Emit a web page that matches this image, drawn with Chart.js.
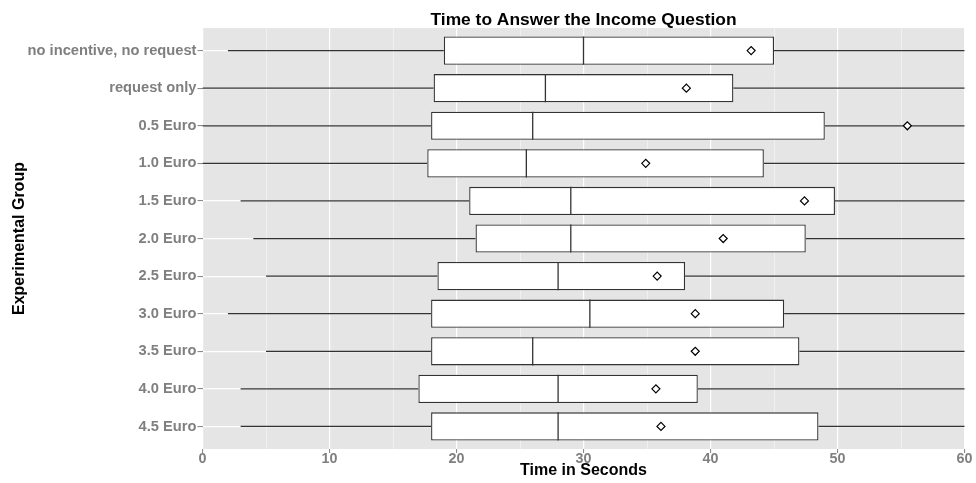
<!DOCTYPE html>
<html>
<head>
<meta charset="utf-8">
<title>Time to Answer the Income Question</title>
<script src="https://cdn.jsdelivr.net/npm/chart.js@4/dist/chart.umd.min.js"></script>
<style>
  html, body { margin: 0; padding: 0; background: #ffffff; }
  canvas { display: block; }
</style>
</head>
<body>
<canvas id="chart" width="976" height="483"></canvas>
<script>
// Experimental groups, top to bottom
const categories = [
  "no incentive, no request", "request only", "0.5 Euro", "1.0 Euro",
  "1.5 Euro", "2.0 Euro", "2.5 Euro", "3.0 Euro", "3.5 Euro", "4.0 Euro", "4.5 Euro"
];
// Box plot statistics (seconds)
const whiskerLow  = [2, 0, 0, 0, 3, 4, 5, 2, 5, 3, 3];
const q1          = [19, 18.2, 18, 17.7, 21, 21.5, 18.5, 18, 18, 17, 18];
const medians     = [30, 27, 26, 25.5, 29, 29, 28, 30.5, 26, 28, 28];
const q3          = [45, 41.8, 49, 44.2, 49.8, 47.5, 38, 45.8, 47, 39, 48.5];
const whiskerHigh = [84, 77, 95, 84, 92, 86, 67, 87, 90, 72, 94];
const means       = [43.2, 38.1, 55.5, 34.9, 47.4, 41.0, 35.8, 38.8, 38.8, 35.7, 36.1];
// Axis ticks
const xTicks = [0, 10, 20, 30, 40, 50, 60];

const FONT = "'Liberation Sans', Arial, Helvetica, sans-serif";
const BOX_LINE = '#333333';

// Panel background
const panelBackground = {
  id: 'panelBackground',
  beforeDraw(chart) {
    const { ctx, chartArea: a } = chart;
    ctx.save();
    ctx.fillStyle = '#ffffff';
    ctx.fillRect(0, 0, chart.width, chart.height);
    ctx.fillStyle = '#e5e5e5';
    ctx.fillRect(a.left, a.top, a.right - a.left, a.bottom - a.top);
    ctx.restore();
  }
};

// Whiskers (drawn under the boxes) and median lines (drawn over the boxes)
const boxParts = {
  id: 'boxParts',
  beforeDatasetsDraw(chart) {
    const { ctx, chartArea: a } = chart;
    const xs = chart.scales.x, ys = chart.scales.y;
    ctx.save();
    ctx.beginPath();
    ctx.rect(a.left, a.top, a.right - a.left, a.bottom - a.top);
    ctx.clip();
    ctx.strokeStyle = BOX_LINE;
    ctx.lineWidth = 1.2;
    categories.forEach((c, i) => {
      const y = ys.getPixelForValue(i);
      ctx.beginPath();
      ctx.moveTo(xs.getPixelForValue(whiskerLow[i]), y);
      ctx.lineTo(xs.getPixelForValue(q1[i]), y);
      ctx.moveTo(xs.getPixelForValue(q3[i]), y);
      ctx.lineTo(xs.getPixelForValue(whiskerHigh[i]), y);
      ctx.stroke();
    });
    ctx.restore();
  },
  afterDatasetDraw(chart, args) {
    if (args.meta.type !== 'bar') return;
    const { ctx } = chart;
    const xs = chart.scales.x;
    ctx.save();
    ctx.strokeStyle = BOX_LINE;
    ctx.lineWidth = 1.3;
    args.meta.data.forEach((bar, i) => {
      const x = xs.getPixelForValue(medians[i]);
      const h = bar.height / 2;
      ctx.beginPath();
      ctx.moveTo(x, bar.y - h);
      ctx.lineTo(x, bar.y + h);
      ctx.stroke();
    });
    ctx.restore();
  }
};

new Chart(document.getElementById('chart'), {
  type: 'bar',
  data: {
    datasets: [
      {
        type: 'bar',
        label: 'Box',
        indexAxis: 'y',
        order: 2,
        data: categories.map((c, i) => ({ y: i, x: [q1[i], q3[i]] })),
        backgroundColor: '#ffffff',
        borderColor: BOX_LINE,
        borderWidth: 1.3,
        borderSkipped: false,
        categoryPercentage: 1,
        barPercentage: 0.75,
        grouped: false
      },
      {
        type: 'scatter',
        label: 'Mean',
        order: 1,
        data: categories.map((c, i) => ({ x: means[i], y: i })),
        pointStyle: 'rectRot',
        pointRadius: 4,
        backgroundColor: '#ffffff',
        borderColor: '#000000',
        borderWidth: 1.2
      }
    ]
  },
  options: {
    indexAxis: 'y',
    responsive: false,
    animation: false,
    events: [],
    layout: { padding: { top: 0, right: 11.5, bottom: 0, left: 0 } },
    plugins: {
      legend: { display: false },
      tooltip: { enabled: false },
      title: {
        display: true,
        text: 'Time to Answer the Income Question',
        fullSize: false,
        align: 'center',
        color: '#000000',
        font: { family: FONT, size: 17.4, weight: 'bold', lineHeight: 0.9 },
        padding: { top: 12.2, bottom: 0.2 }
      }
    },
    scales: {
      x: {
        type: 'linear',
        position: 'bottom',
        offset: false,
        min: 0,
        max: 60,
        afterFit(scale) { scale.height = 34; },
        afterBuildTicks(scale) {
          // major ticks every 10, minor grid lines halfway between
          const vals = [];
          xTicks.forEach((v, k) => {
            vals.push({ value: v });
            if (k < xTicks.length - 1) vals.push({ value: (v + xTicks[k + 1]) / 2 });
          });
          scale.ticks = vals;
        },
        border: { display: false },
        grid: {
          offset: false,
          color: (ctx) => (xTicks.includes(ctx.tick && ctx.tick.value) ? '#ffffff' : '#f2f2f2'),
          lineWidth: (ctx) => (xTicks.includes(ctx.tick && ctx.tick.value) ? 1.2 : 0.8),
          tickColor: (ctx) => (xTicks.includes(ctx.tick && ctx.tick.value) ? '#7f7f7f' : 'rgba(0,0,0,0)'),
          tickLength: 4,
          tickWidth: 1
        },
        ticks: {
          autoSkip: false,
          maxRotation: 0,
          padding: -3,
          color: '#7f7f7f',
          font: { family: FONT, size: 14.3, weight: 'bold' },
          callback: (v) => (xTicks.includes(v) ? String(v) : '')
        },
        title: {
          display: true,
          text: 'Time in Seconds',
          color: '#000000',
          font: { family: FONT, size: 16, weight: 'bold' },
          padding: { top: 0, bottom: 2.9 }
        }
      },
      y: {
        type: 'linear',
        position: 'left',
        offset: false,
        reverse: true,
        min: -0.6,
        max: categories.length - 0.4,
        afterFit(scale) { scale.width = 202.5; },
        afterBuildTicks(scale) {
          scale.ticks = categories.map((c, i) => ({ value: i }));
        },
        border: { display: false },
        grid: {
          offset: false,
          color: '#ffffff',
          lineWidth: 1.2,
          tickColor: '#7f7f7f',
          tickLength: 5,
          tickWidth: 1
        },
        ticks: {
          autoSkip: false,
          padding: 1,
          color: '#7f7f7f',
          font: { family: FONT, size: 14.7, weight: 'bold' },
          callback: (v) => categories[v]
        },
        title: {
          display: true,
          text: 'Experimental Group',
          color: '#000000',
          font: { family: FONT, size: 16, weight: 'bold' },
          padding: { top: 9.7, bottom: 0 }
        }
      }
    }
  },
  plugins: [panelBackground, boxParts]
});
</script>
</body>
</html>
